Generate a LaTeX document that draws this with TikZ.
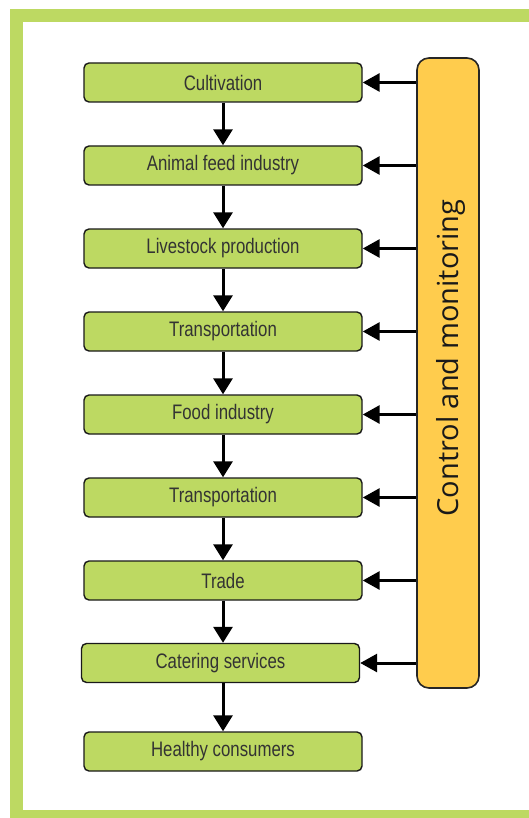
\documentclass[tikz,border=0pt]{standalone}
\usepackage{fontspec}
\usetikzlibrary{arrows.meta}
\newfontfamily\boxfont{Liberation Sans}[FakeStretch=0.8]
\newfontfamily\ctrlfont{Open Sans}
\definecolor{framegreen}{HTML}{BDD962}
\definecolor{boxgreen}{HTML}{BDD962}
\definecolor{ctrlyellow}{HTML}{FFCC4D}
\definecolor{txt}{HTML}{333333}
\tikzset{
  stage/.style={draw=black!90, line width=1.4pt, fill=boxgreen, rounded corners=5pt,
    minimum width=278pt, minimum height=39pt, inner sep=0pt,
    font=\boxfont\fontsize{21}{24}\selectfont, text=txt},
  ctrl/.style={draw=black!85, line width=1.6pt, fill=ctrlyellow, rounded corners=12pt,
    minimum width=62pt, minimum height=630pt, inner sep=0pt},
  flow/.style={line width=3pt, -{Triangle[length=16pt,width=19pt]}},
  feed/.style={line width=3pt, -{Triangle[length=17pt,width=18pt]}}
}
\begin{document}
\begin{tikzpicture}[x=1pt,y=-1pt]
\useasboundingbox (0,0) rectangle (529,818);
\fill[white] (0,0) rectangle (529,818);
\draw[framegreen, line width=13pt] (16,15.5) rectangle (560,816);
\node[stage] (s1) at (223,82.5) {Cultivation};
\node[stage] (s2) at (223,165.5) {Animal feed industry};
\node[stage] (s3) at (223,248.5) {Livestock production};
\node[stage] (s4) at (223,331.5) {Transportation};
\node[stage] (s5) at (223,414.5) {Food industry};
\node[stage] (s6) at (223,497.5) {Transportation};
\node[stage] (s7) at (223,580.5) {Trade};
\node[stage] (s8) at (220.5,663) {Catering services};
\node[stage] (s9) at (223,751.5) {Healthy consumers};
\node[ctrl] (c) at (448,373) {};
\node[rotate=90, font=\ctrlfont\fontsize{29}{33}\selectfont, text=black!90] (ct) at (451,358) {Control and monitoring};
\foreach \a/\b in {s1/s2,s2/s3,s3/s4,s4/s5,s5/s6,s6/s7,s7/s8}
  \draw[flow] (\a.south) -- (\a.south |- \b.north);
\draw[flow] (s8.south -| s9.north) -- (s9.north);
\foreach \s in {s1,s2,s3,s4,s5,s6,s7,s8}
  \draw[feed] (c.west |- \s.east) -- (\s.east);
\end{tikzpicture}
\end{document}
